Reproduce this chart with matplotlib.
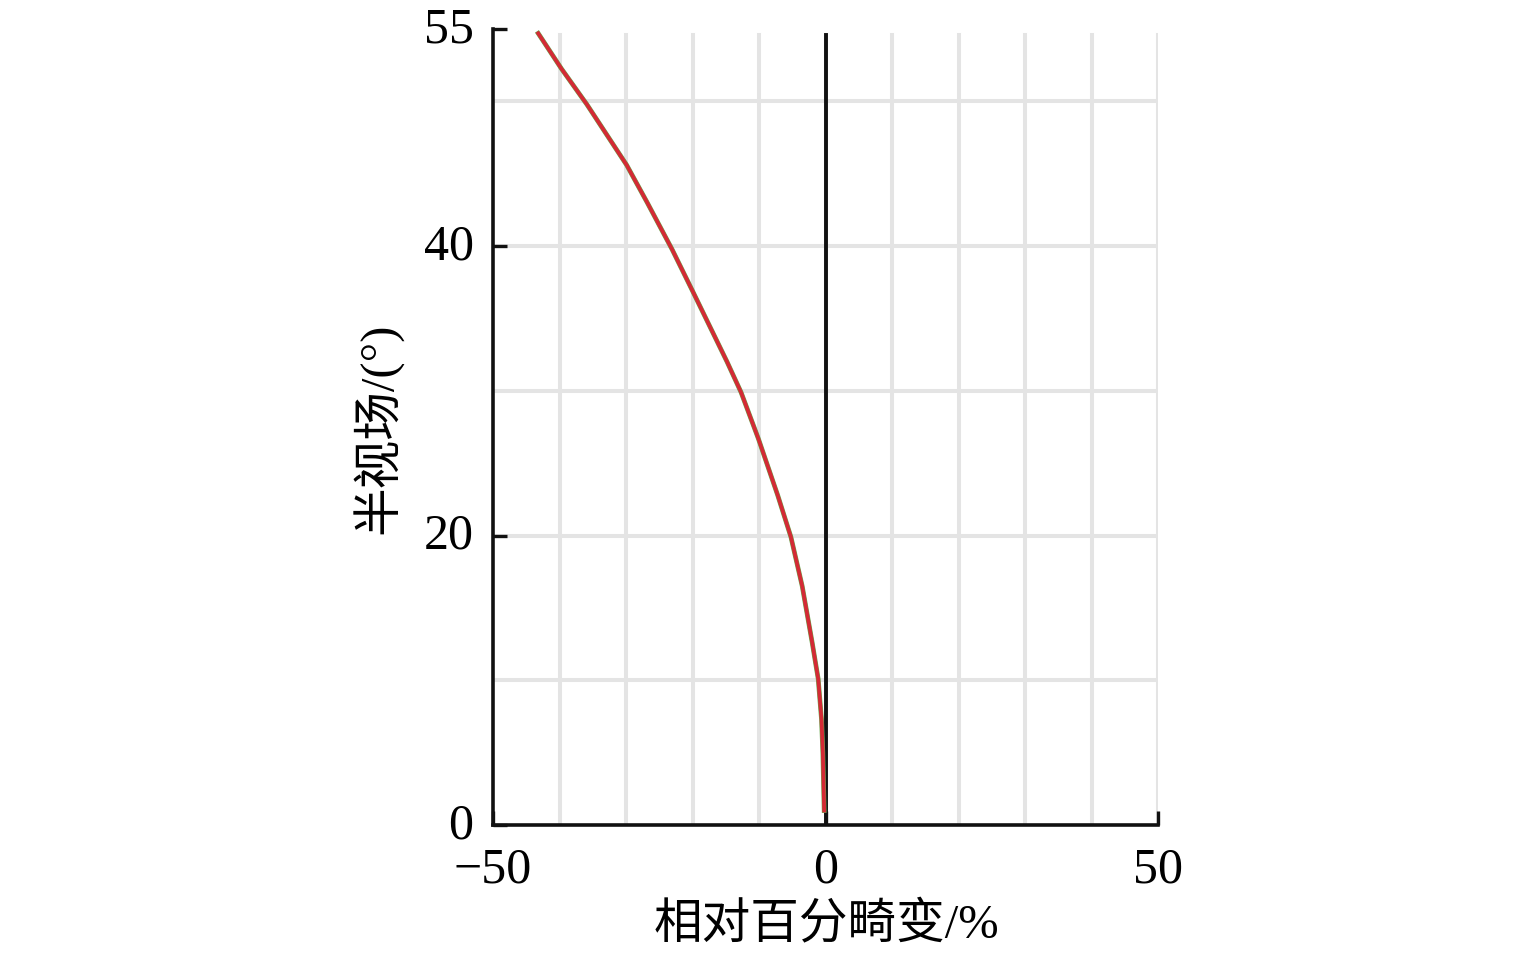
import numpy as np
import matplotlib
matplotlib.use("Agg")
import matplotlib.pyplot as plt
from matplotlib.transforms import ScaledTranslation

# half field of view (deg) and relative distortion (%)
fov = [1.0, 5.0, 7.3, 10.1, 12.6, 16.5, 19.9, 22.8, 26.7, 29.9, 32.0, 37.0, 39.8, 43.0, 45.6, 49.8, 52.25, 54.7]
distortion = [-0.2, -0.4, -0.6, -1.1, -2.0, -3.5, -5.2, -7.2, -10.1, -12.7, -14.8, -20.1, -23.1, -26.8, -29.9, -35.9, -39.7, -43.2]

xticks = [-50, 0, 50]
yticks = [0, 20, 40, 55]
xgrid = np.arange(-40, 51, 10)
ygrid = np.arange(10, 51, 10)

serif = ['Liberation Serif', 'Noto Sans CJK SC']
plt.rcParams['font.family'] = serif

fig = plt.figure(figsize=(15.35, 9.54), dpi=100)
ax = fig.add_axes([493/1535, 1 - 826/954, (1158 - 493)/1535, (826 - 30)/954])

# light grid
for gx in xgrid:
    ax.axvline(gx, ymax=0.993, color='#e4e4e4', lw=2.9, zorder=0)
for gy in ygrid:
    ax.axhline(gy, color='#e4e4e4', lw=2.9, zorder=0)

# zero line
ax.axvline(0, ymax=0.993, color='#111111', lw=2.8, zorder=2)

# curve (green trace under red)
ax.plot(distortion, fov, color='#6aa84f', lw=3.4, zorder=3)
ax.plot(distortion, fov, color='#d42a35', lw=2.7, zorder=4)

ax.set_xlim(-50, 50)
ax.set_ylim(0, 55)
ax.set_xticks(xticks)
ax.set_yticks(yticks)
ax.set_xticklabels(['\u221250', '0', '50'])
ax.tick_params(direction='in', length=10, width=2.4, labelsize=36, pad=14, color='#111111')
ax.tick_params(axis='x', top=False, pad=15)
ax.tick_params(axis='y', right=False)

# y tick labels sit a little above their ticks
shift = ScaledTranslation(0, 4/72, fig.dpi_scale_trans)
for lab in ax.get_yticklabels():
    lab.set_transform(lab.get_transform() + shift)

for s in ['top', 'right']:
    ax.spines[s].set_visible(False)
for s in ['left', 'bottom']:
    ax.spines[s].set_linewidth(2.6)
    ax.spines[s].set_color('#111111')

fig.text(826/1535, 1 - 925/954, '相对百分畸变/%', ha='center', va='center', fontsize=35)
fig.text(378/1535, 1 - 428/954, '半视场/(°)', ha='center', va='center', fontsize=35, rotation=90)

fig.savefig('out.png', dpi=100, facecolor='white')
